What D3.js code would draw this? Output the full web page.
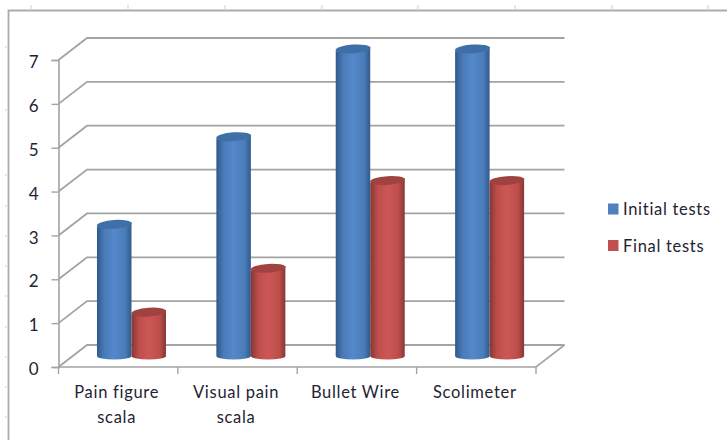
<!DOCTYPE html>
<html>
<head>
<meta charset="utf-8">
<script src="https://cdnjs.cloudflare.com/ajax/libs/d3/7.8.5/d3.min.js"></script>
<style>
body{margin:0;background:#fff;}
svg{display:block;}
text{font-family:Lato,"Open Sans",sans-serif;fill:#1f2433;}
</style>
</head>
<body>
<div id="canvas"></div>
<script>
var w = 727;
var h = 440;

var categories = [["Pain figure","scala"],["Visual pain","scala"],["Bullet Wire"],["Scolimeter"]];
var catKeys = ["Pain figure scala","Visual pain scala","Bullet Wire","Scolimeter"];
var initialTests = [3,5,7,7];
var finalTests = [1,2,4,4];
var yTicks = [0,1,2,3,4,5,6,7];
var seriesNames = ["Initial tests","Final tests"];
var rulerX = [31,128,225,322,418,515,612,708];
var rulerY = [47,110,175,206,236,266,296,327,357,387,417];

var svg = d3.select("#canvas").append("svg")
	.attr("width",w)
	.attr("height",h);

var defs = svg.append("defs");
function cylGrad(id,edge,mid,light){
	var g = defs.append("linearGradient").attr("id",id);
	g.append("stop").attr("offset","0%").attr("stop-color",edge);
	g.append("stop").attr("offset","22%").attr("stop-color",mid);
	g.append("stop").attr("offset","50%").attr("stop-color",light);
	g.append("stop").attr("offset","82%").attr("stop-color",mid);
	g.append("stop").attr("offset","100%").attr("stop-color",edge);
}
cylGrad("blueCyl","#2f5a8c","#4a7cb8","#5588cb");
cylGrad("redCyl","#853836","#bd4e4b","#cc5755");
defs.append("filter").attr("id","soft")
	.append("feGaussianBlur").attr("stdDeviation",0.5);

//outer frame, only top + left show
svg.append("path")
	.attr("d","M8.5,440V10.5H727")
	.attr("fill","none")
	.attr("stroke","#ababab")
	.attr("stroke-width",1.8);

//faint ruler marks around the frame
svg.selectAll(".rx").data(rulerX).join("line")
	.attr("x1",function(d){return d;}).attr("x2",function(d){return d;})
	.attr("y1",5).attr("y2",10)
	.attr("stroke","#d5e0ee").attr("stroke-width",1.5);
svg.selectAll(".ry").data(rulerY).join("line")
	.attr("x1",5).attr("x2",8)
	.attr("y1",function(d){return d;}).attr("y2",function(d){return d;})
	.attr("stroke","#d5e0ee").attr("stroke-width",1.5);

var x0 = 58.5, x1 = 536;
var dx = 28.5, dy = -22;

var yScale = d3.scaleLinear().domain([0,7]).range([367,60]);
var xScale = d3.scaleBand().domain(catKeys).range([x0,x1]);
var xInner = d3.scaleBand().domain(seriesNames).range([0,69]);

var grid = svg.append("g");
var gridColor = "#a3a3a3";
//back wall lines + slanted side lines
yTicks.forEach(function(t){
	var y = yScale(t);
	grid.append("path")
		.attr("d","M"+x0+","+y+"L"+(x0+dx)+","+(y+dy)+"H"+(x1+dx))
		.attr("fill","none")
		.attr("stroke",gridColor)
		.attr("stroke-width",1.8);
});
//floor front + right side
grid.append("path")
	.attr("d","M"+x0+","+yScale(0)+"H"+x1+"L"+(x1+dx)+","+(yScale(0)+dy))
	.attr("fill","none")
	.attr("stroke",gridColor)
	.attr("stroke-width",1.6);

//y axis
var yAxis = d3.axisLeft(yScale).tickValues(yTicks).tickSize(7).tickPadding(13).tickFormat(d3.format("d"));
var gy = svg.append("g").attr("transform","translate("+x0+",0)").call(yAxis);
gy.select(".domain").attr("stroke",gridColor).attr("stroke-width",1.6);
gy.selectAll(".tick line").attr("stroke",gridColor).attr("stroke-width",1.4);
gy.selectAll("text")
	.style("font-size","17px")
	.style("font-family","Lato")
	.attr("dy","0.45em")
	.attr("fill","#1f2433");

//x axis ticks at the category edges
var xEdges = catKeys.map(function(c){return xScale(c);}).concat([x1]);
svg.selectAll(".xt").data(xEdges).join("line")
	.attr("x1",function(d){return d;}).attr("x2",function(d){return d;})
	.attr("y1",367).attr("y2",374)
	.attr("stroke",gridColor).attr("stroke-width",1.4);

//category labels
catKeys.forEach(function(c,i){
	var t = svg.append("text")
		.attr("text-anchor","middle")
		.style("font-size","16.5px")
		.style("letter-spacing","0.7px");
	categories[i].forEach(function(line,j){
		t.append("tspan")
			.attr("x",xScale(c)+xScale.bandwidth()/2-1.5)
			.attr("y",398+j*25)
			.text(line);
	});
});

//cylinders
var bars = svg.append("g").attr("filter","url(#soft)");
var baseY = yScale(0)-11;
var ry = 4.4;
var tilt = 2.2;
var unit = yScale(0)-yScale(1);
function drawCyl(val,cat,name,grad,topColor){
	var left = xScale(cat)+xScale.bandwidth()/2+13.3-34.5+xInner(name);
	var wid = xInner.bandwidth();
	var cx = left+wid/2;
	var rx = wid/2;
	var topY = baseY-val*unit;
	bars.append("path")
		.attr("d","M"+left+","+(topY+tilt)+"V"+baseY
			+"A"+rx+",3.6 0 0 0 "+(left+wid)+","+baseY
			+"V"+(topY-tilt)+"Z")
		.attr("fill","url(#"+grad+")");
	bars.append("ellipse")
		.attr("cx",cx).attr("cy",topY)
		.attr("rx",rx+0.2).attr("ry",ry)
		.attr("transform","rotate(-4 "+cx+" "+topY+")")
		.attr("fill",topColor);
}
catKeys.forEach(function(c,i){
	drawCyl(initialTests[i],c,seriesNames[0],"blueCyl","#3f6ea6");
	drawCyl(finalTests[i],c,seriesNames[1],"redCyl","#a04341");
});

//legend
var legendColors = ["#4f81bd","#c0504d"];
var legendY = d3.scalePoint().domain(seriesNames).range([209,245.5]);
seriesNames.forEach(function(n,i){
	svg.append("rect")
		.attr("x",608).attr("y",legendY(n)-5.5)
		.attr("width",10.5).attr("height",11)
		.attr("fill",legendColors[i]);
	svg.append("text")
		.attr("x",623).attr("y",legendY(n)+6)
		.style("font-size","16.5px")
		.style("letter-spacing","0.7px")
		.text(n);
});
</script>
</body>
</html>
